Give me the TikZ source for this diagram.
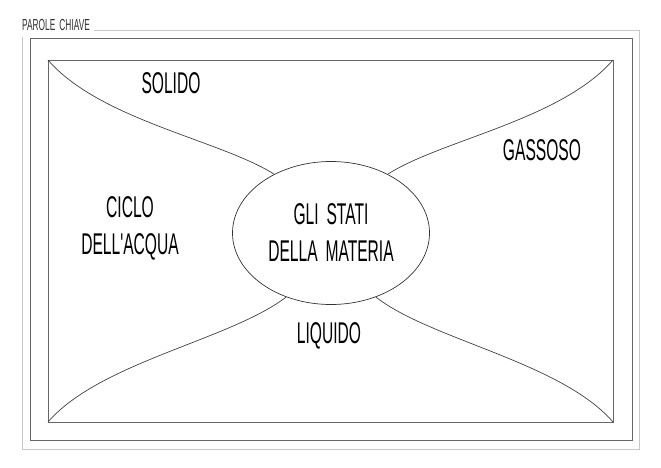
\documentclass[tikz,border=0pt]{standalone}
\usepackage{fontspec}
\newfontfamily\handfont[FakeStretch=0.52, WordSpace=1.8]{Liberation Sans}
\usetikzlibrary{shapes.geometric,positioning}
\definecolor{cornice}{HTML}{C8C8C8}

\begin{document}
\begin{tikzpicture}[x=1pt, y=-1pt,
    every node/.style={font=\handfont\fontsize{30}{37}\selectfont, align=center},
    bordo/.style={draw=black!60, line width=1pt},
    ramo/.style={draw=black!75, line width=0.7pt}]
  \useasboundingbox (0,0) rectangle (661,467);
  % cornici
  \draw[cornice, line width=0.8pt] (22,30) rectangle (639,449);
  \draw[bordo] (30,38) rectangle (632,440);
  \draw[bordo] (48,60) rectangle (613,422);
  \coordinate (nw) at (48,60);
  \coordinate (ne) at (613,60);
  \coordinate (sw) at (48,422);
  \coordinate (se) at (613,422);
  \node[fill=white, inner xsep=4pt, inner ysep=7pt, anchor=base west,
        font=\handfont\fontsize{16}{18}\selectfont, text=black!80] (titolo) at (18,30) {PAROLE CHIAVE};
  % centro
  \node[ellipse, draw=black!80, line width=0.7pt, minimum width=197pt,
        minimum height=143pt, inner sep=0pt] (stati) at (331,233) {GLI STATI\\DELLA MATERIA};
  \draw[ramo] (nw) .. controls (100,120) and (220,140) .. (stati.134);
  \draw[ramo] (ne) .. controls (561,120) and (441,140) .. (stati.46);
  \draw[ramo] (sw) .. controls (100,362) and (230,340) .. (stati.235);
  \draw[ramo] (se) .. controls (561,362) and (431,340) .. (stati.305);
  % parole
  \node[anchor=base] (solido) at (171,93) {SOLIDO};
  \node[anchor=base] (gassoso) at (542,160) {GASSOSO};
  \node (ciclo) at (130,228) {CICLO\\DELL'ACQUA};
  \node[anchor=base] (liquido) at (329,343) {LIQUIDO};
\end{tikzpicture}
\end{document}
